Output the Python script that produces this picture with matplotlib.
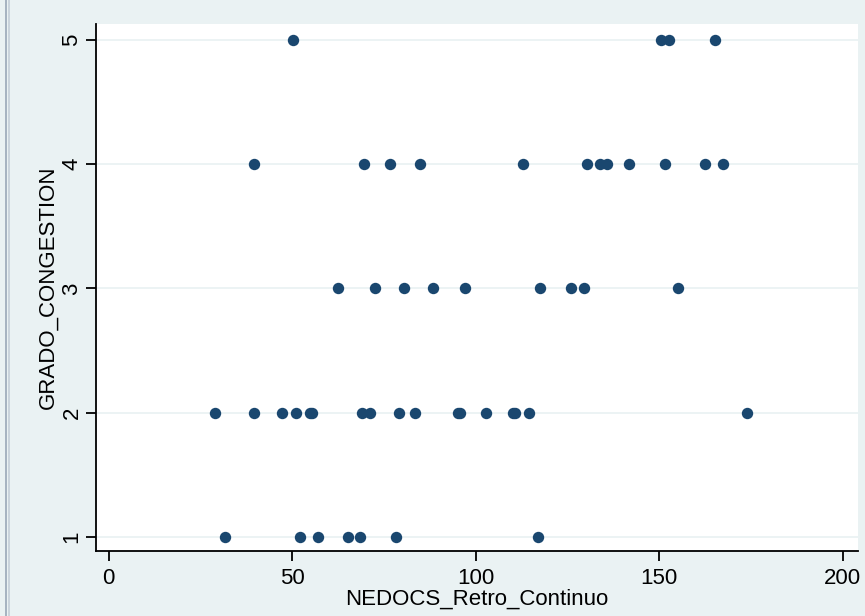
import matplotlib
matplotlib.use("Agg")
import matplotlib.pyplot as plt
from matplotlib import font_manager
from matplotlib.lines import Line2D

# Data
x_g5 = [50.3, 150.4, 152.6, 165.3]
x_g4 = [39.6, 69.7, 76.7, 84.7, 112.8, 130.3, 134.0, 135.7, 141.9, 151.5, 162.6, 167.4]
x_g3 = [62.4, 72.6, 80.6, 88.4, 97.0, 117.6, 126.0, 129.5, 155.1]
x_g2 = [29.0, 39.6, 47.1, 51.0, 54.8, 55.3, 68.9, 71.3, 79.2, 83.6, 95.1, 95.7,
        102.7, 110.1, 110.6, 114.4, 173.9]
x_g1 = [31.7, 52.2, 56.9, 65.1, 68.6, 78.2, 117.1]
groups = [1, 2, 3, 4, 5]
xs_by_group = [x_g1, x_g2, x_g3, x_g4, x_g5]
x_ticks = [0, 50, 100, 150, 200]
y_ticks = [1, 2, 3, 4, 5]
x_label = "NEDOCS_Retro_Continuo"
y_label = "GRADO_CONGESTION"

names = {f.name for f in font_manager.fontManager.ttflist}
fam = "Liberation Sans Narrow" if "Liberation Sans Narrow" in names else "Liberation Sans"
plt.rcParams['font.family'] = [fam, 'DejaVu Sans']

bg = "#eaf2f3"
fig = plt.figure(figsize=(8.65, 6.16), dpi=100, facecolor=bg)
ax = fig.add_axes([95.7 / 865, (616 - 550.7) / 616, (857.7 - 95.7) / 865, (550.7 - 24) / 616])
ax.set_facecolor("white")

for g, xs in zip(groups, xs_by_group):
    ax.plot(xs, [g] * len(xs), linestyle="none", marker="o", markersize=8.2,
            markerfacecolor="#1a476f", markeredgewidth=0, zorder=3)

ax.set_xlim(-3.54, 204.1)
ax.set_ylim(0.887, 5.129)
ax.set_xticks(x_ticks)
ax.set_yticks(y_ticks)
ax.set_xticklabels([str(t) for t in x_ticks], fontsize=16)
ax.set_yticklabels([str(t) for t in y_ticks], fontsize=16, rotation=90, va="center")
ax.tick_params(axis="both", direction="out", length=7.5, width=1.3, color="black")
ax.tick_params(axis="x", pad=5)
ax.tick_params(axis="y", pad=2)
ax.yaxis.grid(True, color=bg, linewidth=1.3, zorder=0)
ax.set_axisbelow(True)
for s in ["top", "right"]:
    ax.spines[s].set_visible(False)
for s in ["left", "bottom"]:
    ax.spines[s].set_linewidth(1.3)
    ax.spines[s].set_color("black")

ax.set_xlabel(x_label, fontsize=16, labelpad=0)
ax.set_ylabel(y_label, fontsize=16, labelpad=2)

# window border on the left
fig.add_artist(Line2D([5.5 / 865, 5.5 / 865], [0, 1], transform=fig.transFigure,
                      color="#9aa8b8", linewidth=1.2))
fig.add_artist(Line2D([8.5 / 865, 8.5 / 865], [0, 1], transform=fig.transFigure,
                      color="#c4cfd8", linewidth=1.2))

fig.savefig("out.png", dpi=100, facecolor=bg)
